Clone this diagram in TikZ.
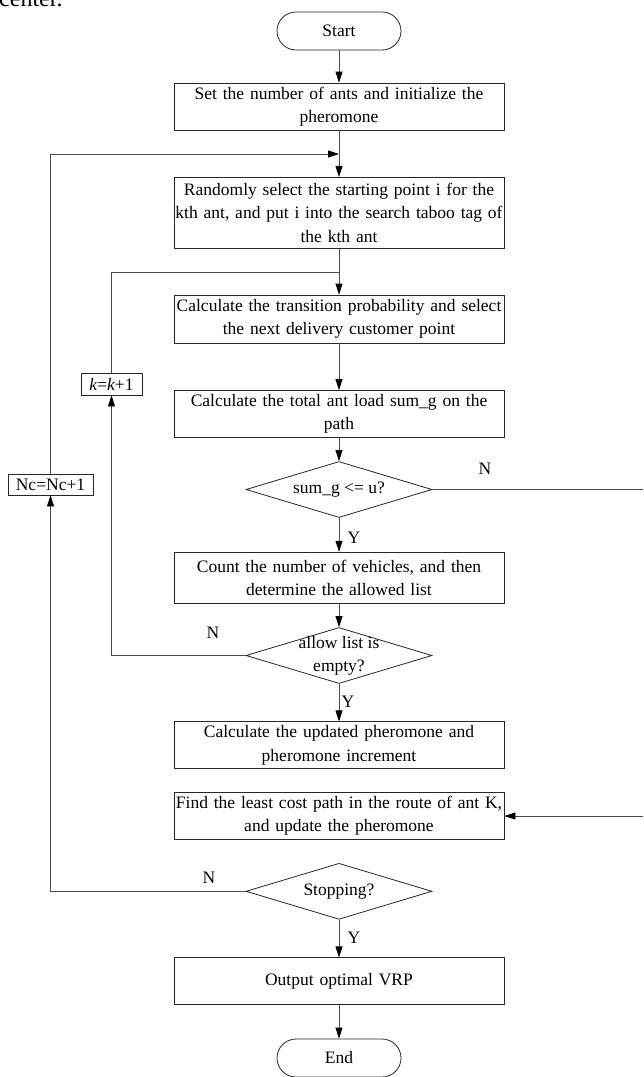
\documentclass[tikz,border=0pt]{standalone}
\usepackage{fontspec}
\setmainfont{Liberation Serif}
\usetikzlibrary{arrows.meta,shapes.geometric}
\begin{document}
\begin{tikzpicture}[x=1pt,y=-1pt,
  font=\fontsize{17.5}{23.3}\selectfont,
  box/.style={draw=black!85, line width=0.8pt, minimum width=330pt, inner sep=0pt, align=center, text width=328pt},
  term/.style={draw=black!85, line width=0.8pt, rounded corners=19pt, minimum width=124pt, minimum height=38pt, inner sep=0pt},
  dia/.style={diamond, draw=black!85, line width=0.8pt, minimum width=186pt, minimum height=56pt, inner sep=0pt},
  small/.style={draw=black!85, line width=0.8pt, inner sep=0pt, minimum height=22pt},
  conn/.style={draw=black!70, line width=0.8pt},
  arr/.style={conn, -{Triangle[length=11pt,width=7pt,color=black]}},
  lbl/.style={inner sep=0pt}
]
\useasboundingbox (0,0) rectangle (643,1077);
\clip (0,0) rectangle (643,1077);

\node[anchor=base west, inner sep=0pt, font=\fontsize{24}{28}\selectfont] (ctr) at (-1,6.5) {center.};

\node[term] (start) at (339,31) {Start};
\node[box, minimum height=47pt] (b1) at (339,106.5) {Set the number of ants and initialize the\\pheromone};
\node[box, minimum height=71pt] (b2) at (339,212.8) {Randomly select the starting point i for the\\kth ant, and put i into the search taboo tag of\\the kth ant};
\node[box, minimum height=48pt] (b3) at (339,319) {Calculate the transition probability and select\\the next delivery customer point};
\node[box, minimum height=47pt] (b4) at (339,414) {Calculate the total ant load sum\_g on the\\path};
\node[dia] (d1) at (339,489.5) {};
\node[lbl] (d1t) at (d1) {sum\_g <= u?};
\node[box, minimum height=51pt] (b5) at (339,577.7) {Count the number of vehicles, and then\\determine the allowed list};
\node[dia] (d2) at (339,655.5) {};
\node[lbl, align=center] (d2t) at (339,656) {allow list is\\empty?};
\node[box, minimum height=47pt] (b6) at (339,745.3) {Calculate the updated pheromone and\\pheromone increment};
\node[box, minimum height=47pt] (b7) at (339,816) {Find the least cost path in the route of ant K,\\and update the pheromone};
\node[dia] (d3) at (339,891.3) {};
\node[lbl] (d3t) at (d3) {Stopping?};
\node[box, minimum height=47pt] (b8) at (339,981.3) {Output optimal VRP};
\node[term] (end) at (339,1058) {End};

\node[small, minimum width=61pt] (k) at (111.5,384) {\itshape k\upshape=\itshape k\upshape+1};
\node[small, minimum width=85pt, minimum height=21pt] (nc) at (50.5,484.5) {Nc=Nc+1};

\coordinate (j1) at (339,154);
\coordinate (j2) at (339,272.3);
\coordinate (rr) at (648,489.5);

\draw[arr] (start) -- (b1);
\draw[arr] (b1) -- (b2);
\draw[arr] (b2) -- (b3);
\draw[arr] (b3) -- (b4);
\draw[arr] (b4) -- (d1);
\draw[arr] (d1) -- (b5);
\draw[arr] (b5) -- (d2);
\draw[arr] (d2) -- (b6);
\draw[arr] (d3) -- (b8);
\draw[arr] (b8) -- (end);

\draw[arr] (nc.north) |- (j1);
\draw[conn] (k.north) |- (j2);
\draw[arr] (d2.west) -| (k.south);
\draw[arr] (d3.west) -| (nc.south);
\draw[arr] (d1.east) -- (rr) |- (b7.east);

\node[lbl] (n1) at (485,469) {N};
\node[lbl] (y1) at (354,538) {Y};
\node[lbl] (n2) at (213,633) {N};
\node[lbl] (y2) at (348,701.7) {Y};
\node[lbl] (n3) at (209,877.7) {N};
\node[lbl] (y3) at (354,938) {Y};
\end{tikzpicture}
\end{document}
